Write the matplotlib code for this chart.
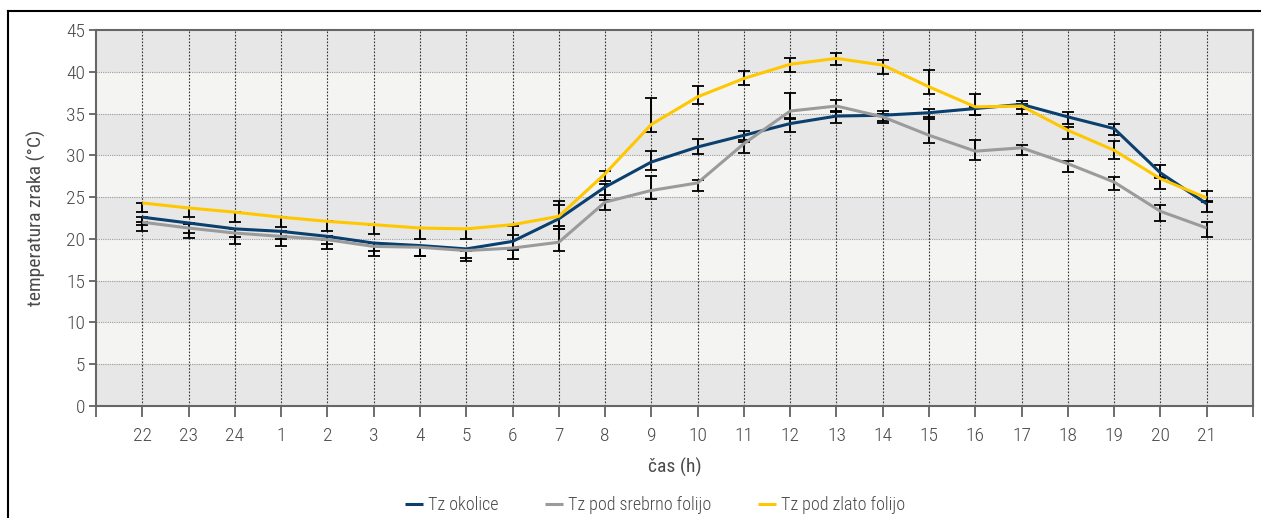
import matplotlib
matplotlib.use("Agg")
import matplotlib.pyplot as plt
from matplotlib.lines import Line2D
from matplotlib import font_manager
import numpy as np

available = {f.name for f in font_manager.fontManager.ttflist}
preferred = ['Roboto Condensed', 'Liberation Sans Narrow', 'Open Sans Condensed', 'Noto Sans Condensed',
             'Liberation Sans']
chosen = next((f for f in preferred if f in available), 'DejaVu Sans')
plt.rcParams['font.family'] = [chosen, 'DejaVu Sans']
plt.rcParams['font.weight'] = 'light'

categories = ['22', '23', '24', '1', '2', '3', '4', '5', '6', '7', '8', '9', '10',
              '11', '12', '13', '14', '15', '16', '17', '18', '19', '20', '21']

okolice = [22.6, 21.9, 21.2, 20.9, 20.3, 19.5, 19.2, 18.8, 19.7, 22.4, 26.2, 29.2,
           31.0, 32.4, 33.8, 34.7, 34.8, 35.1, 35.6, 36.1, 34.6, 33.2, 27.9, 24.2]
srebrno = [22.0, 21.3, 20.7, 20.3, 19.9, 19.1, 19.0, 18.6, 18.9, 19.6, 24.4, 25.8,
           26.7, 31.4, 35.3, 35.9, 34.6, 32.4, 30.5, 30.9, 29.0, 26.8, 23.3, 21.3]
zlato = [24.3, 23.7, 23.2, 22.6, 22.1, 21.7, 21.3, 21.2, 21.7, 22.7, 27.8, 33.7,
         37.0, 39.2, 40.9, 41.6, 40.8, 38.2, 35.8, 35.9, 33.0, 30.6, 27.2, 24.9]

okolice_lo = [0.9, 1.15, 1.0, 0.87, 0.9, 0.93, 1.2, 1.08, 1.08, 1.2, 1.5, 1.0,
              0.88, 0.6, 0.96, 0.84, 0.96, 0.8, 0.8, 0.5, 0.8, 0.8, 0.65, 1.0]
okolice_hi = [0, 0, 0, 0, 0, 0, 0, 0, 1.8, 1.7, 0.4, 1.3,
              0.92, 0.5, 0.53, 0.48, 0.5, 0.48, 0.2, 0.4, 0.6, 0.6, 1.0, 0.2]
srebrno_lo = [1.1, 1.23, 1.3, 1.2, 1.16, 1.1, 1.1, 1.28, 1.3, 1.1, 1.0, 1.0,
              0.96, 1.1, 0.8, 0.64, 0.5, 0.88, 1.0, 0.9, 1.0, 1.0, 1.1, 1.1]
srebrno_hi = [0, 0.45, 0, 0, 0, 0, 0, 0, 0, 1.6, 0.85, 1.7,
              0.4, 0.2, 2.15, 0.77, 0.3, 2.2, 1.3, 0.3, 0.3, 0.6, 0.7, 0.75]
zlato_lo = [1.1, 1.1, 1.12, 1.2, 1.1, 1.1, 1.27, 1.23, 1.2, 1.1, 0.9, 0.9,
            0.84, 0.84, 0.92, 0.84, 1.04, 0.88, 1.0, 0.9, 1.0, 1.0, 1.2, 0.4]
zlato_hi = [0, 0, 0, 0, 0, 0, 0, 0, 0, 1.8, 0.3, 3.2,
            1.27, 0.9, 0.72, 0.64, 0.6, 2.0, 1.6, 0.2, 0.4, 1.1, 0.2, 0.8]

series = [
    ('Tz okolice', okolice, okolice_lo, okolice_hi, '#0b3f6e'),
    ('Tz pod srebrno folijo', srebrno, srebrno_lo, srebrno_hi, '#9b9b9b'),
    ('Tz pod zlato folijo', zlato, zlato_lo, zlato_hi, '#ffc700'),
]

text_col = '#4a4a4a'
fig = plt.figure(figsize=(12.61, 5.18), dpi=100)
ax = fig.add_axes([96/1261, 1-406/518, (1253-96)/1261, (406-30)/518])

x = np.arange(len(categories))

for i, y0 in enumerate(range(0, 45, 5)):
    ax.axhspan(y0, y0+5, color='#e7e7e7' if i % 2 == 0 else '#f4f4f3', zorder=0, lw=0)

for y0 in range(5, 45, 5):
    ax.axhline(y0, color='#9a9a9a', lw=0.8, ls=(0, (1, 1)), zorder=1)
for xi in x:
    ax.axvline(xi, color='#333333', lw=0.8, ls=(0, (1.5, 1.5)), zorder=1)

handles = []
for name, vals, lo, hi, col in series:
    ax.errorbar(x, vals, yerr=[lo, hi], fmt='none', ecolor='black', elinewidth=1.4,
                capsize=4, capthick=1.3, zorder=3)
    h, = ax.plot(x, vals, color=col, lw=2.2, zorder=4, solid_capstyle='butt', label=name)
    handles.append(h)

ax.set_xlim(-1, len(categories))
ax.set_ylim(0, 45)
ax.set_yticks(range(0, 46, 5))
ax.set_xticks(np.arange(-1, len(categories)+1))
ax.set_xticklabels([''] + categories + [''])
ax.tick_params(axis='y', labelsize=14, colors='#555555', labelcolor=text_col, length=5, width=1.2, pad=3)
ax.tick_params(axis='x', labelsize=14, colors='#555555', labelcolor=text_col, length=8, width=1.2, pad=7)
for s in ax.spines.values():
    s.set_color('#666666')
    s.set_linewidth(1.5)
    s.set_zorder(5)

ax.set_ylabel('temperatura zraka (°C)', fontsize=14, color=text_col, labelpad=14)
ax.set_xlabel('čas (h)', fontsize=14, color=text_col, labelpad=9)

leg = fig.legend(handles=handles, loc='center', bbox_to_anchor=(655/1261, 1-505/518), ncol=3,
                 frameon=False, fontsize=13, handlelength=1.0, handletextpad=0.25,
                 columnspacing=2.6, labelcolor=text_col)

fig.add_artist(Line2D([8/1261, 1.0], [1-11/518, 1-11/518], transform=fig.transFigure, color='black', lw=1.5))
fig.add_artist(Line2D([8/1261, 8/1261], [0, 1-11/518], transform=fig.transFigure, color='black', lw=1.5))

fig.savefig('out.png', dpi=100)
